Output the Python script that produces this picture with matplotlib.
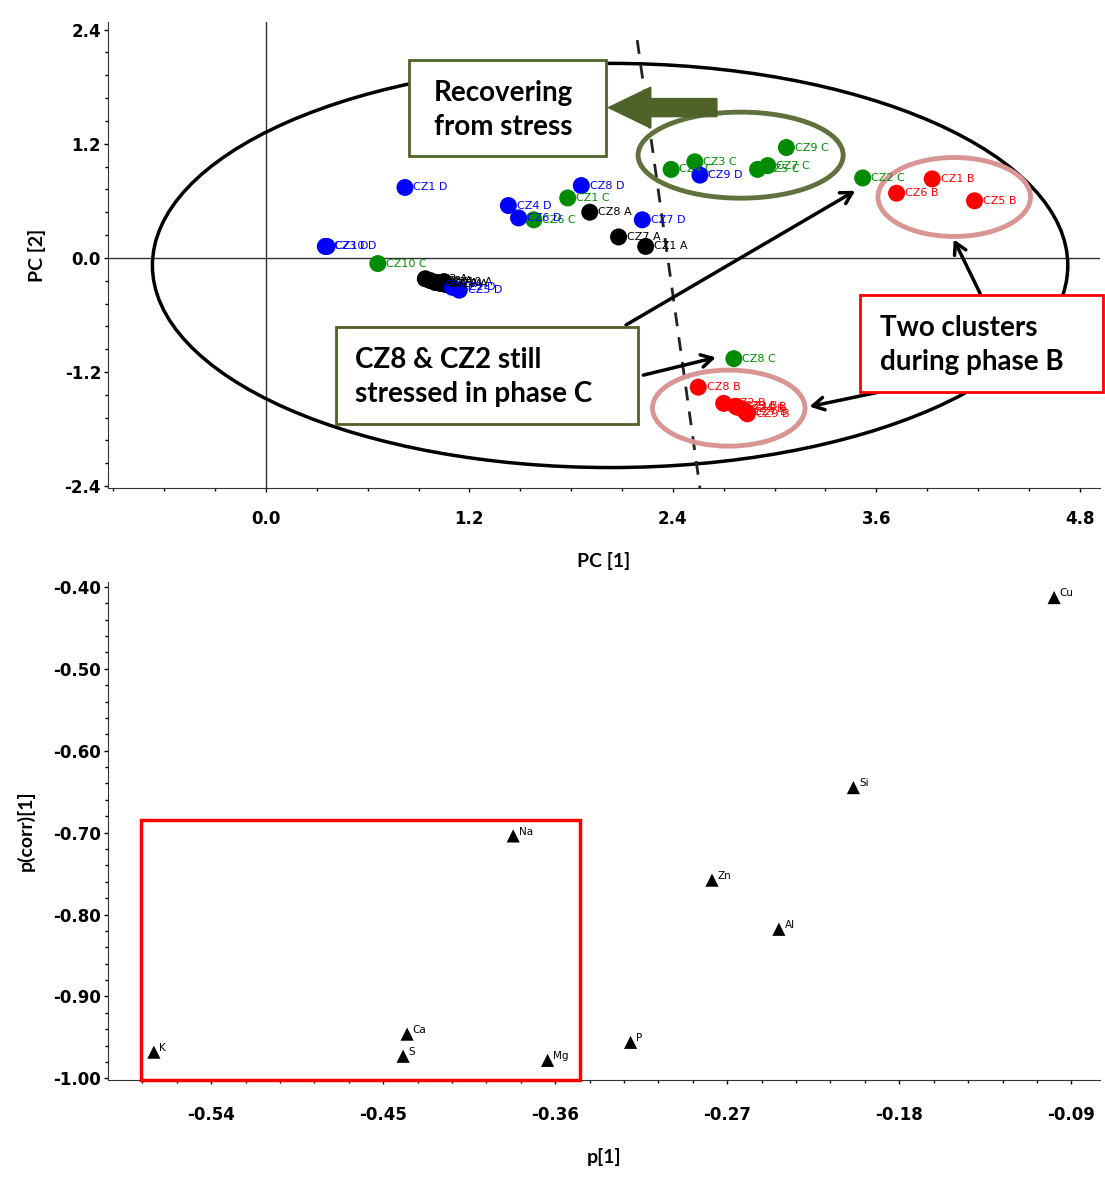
import numpy as np
import matplotlib
matplotlib.use("Agg")
import matplotlib.pyplot as plt
from matplotlib.patches import Ellipse, Rectangle, FancyArrow

# --- score plot (PC1 vs PC2) ---
A_NAMES = ["CZ8 A", "CZ7 A", "CZ1 A", "CZ2 A", "CZ3 A", "CZ4 A", "CZ6 A", "CZ9 A", "CZ10 A"]
A_X = [1.91, 2.08, 2.24, 0.94, 0.97, 1.00, 1.03, 1.06, 1.05]
A_Y = [0.48, 0.22, 0.12, -0.22, -0.24, -0.26, -0.27, -0.28, -0.25]

B_NAMES = ["CZ1 B", "CZ6 B", "CZ5 B", "CZ8 B", "CZ2 B", "CZ3 B", "CZ4 B", "CZ7 B", "CZ9 B", "CZ10 B"]
B_X = [3.93, 3.72, 4.18, 2.55, 2.70, 2.77, 2.81, 2.83, 2.84, 2.78]
B_Y = [0.83, 0.68, 0.60, -1.36, -1.53, -1.56, -1.59, -1.62, -1.64, -1.57]

C_NAMES = ["CZ1 C", "CZ2 C", "CZ3 C", "CZ4 C", "CZ5 C", "CZ6 C", "CZ7 C", "CZ8 C", "CZ9 C", "CZ10 C"]
C_X = [1.78, 3.52, 2.53, 2.39, 2.90, 1.58, 2.96, 2.76, 3.07, 0.66]
C_Y = [0.63, 0.84, 1.01, 0.93, 0.93, 0.40, 0.97, -1.06, 1.16, -0.06]

D_NAMES = ["CZ1 D", "CZ3 D", "CZ10 D", "CZ8 D", "CZ4 D", "CZ6 D", "CZ7 D", "CZ9 D", "CZ2 D", "CZ5 D"]
D_X = [0.82, 0.35, 0.36, 1.86, 1.43, 1.49, 2.22, 2.56, 1.10, 1.14]
D_Y = [0.74, 0.12, 0.12, 0.76, 0.55, 0.42, 0.40, 0.87, -0.31, -0.34]

# --- loading plot p[1] vs p(corr)[1] ---
ELEMENTS = ["Cu", "Si", "Zn", "Al", "Na", "Ca", "S", "Mg", "P", "K"]
P1 = [-0.099, -0.204, -0.278, -0.243, -0.382, -0.4375, -0.4396, -0.364, -0.3206, -0.570]
PCORR = [-0.413, -0.645, -0.758, -0.818, -0.704, -0.946, -0.973, -0.978, -0.956, -0.968]

OLIVE = "#4f6228"
PINK = "#d99594"
W, H = 1105, 1180


def style_axes(ax, xpad):
    for s in ["top", "right"]:
        ax.spines[s].set_visible(False)
    for s in ["left", "bottom"]:
        ax.spines[s].set_color("#333333")
    ax.tick_params(which="major", length=3, width=1, labelsize=12)
    ax.tick_params(which="minor", length=2, width=1)
    ax.tick_params(axis="y", pad=2)
    ax.tick_params(axis="x", pad=xpad)
    for lab in ax.get_xticklabels() + ax.get_yticklabels():
        lab.set_fontweight("bold")


fig = plt.figure(figsize=(W / 100, H / 100), dpi=100)
label_font = dict(fontsize=14, fontweight="bold", family="Lato")

# top panel
ax1 = fig.add_axes([108 / W, 1 - 488 / H, 992 / W, 466 / H])
ax1.set_xlim(-0.932, 4.92)
ax1.set_ylim(-2.42, 2.48)
ax1.set_xticks([0.0, 1.2, 2.4, 3.6, 4.8])
ax1.set_xticks(np.arange(-0.9, 4.9, 0.3), minor=True)
ax1.set_yticks([-2.4, -1.2, 0.0, 1.2, 2.4])
ax1.set_yticks(np.arange(-2.4, 2.41, 0.24), minor=True)
ax1.set_xticklabels(["0.0", "1.2", "2.4", "3.6", "4.8"])
ax1.set_yticklabels(["-2.4", "-1.2", "0.0", "1.2", "2.4"])
style_axes(ax1, 13)
ax1.axhline(0, color="#333333", lw=1, zorder=1)
ax1.axvline(0, color="#333333", lw=1, zorder=1)

ax1.add_patch(Ellipse((2.03, -0.08), 5.40, 4.25, fill=False, ec="black", lw=2.5, zorder=2))
ax1.plot([2.19, 2.56], [2.29, -2.42], ls=(0, (5, 4)), color="#222222", lw=2, zorder=2)

for names, xs, ys, col in [(A_NAMES, A_X, A_Y, "black"), (C_NAMES, C_X, C_Y, "#008c00"),
                           (D_NAMES, D_X, D_Y, "#0000ff"), (B_NAMES, B_X, B_Y, "#ff0000")]:
    ax1.scatter(xs, ys, s=150, color=col, zorder=4, edgecolors="none")
    for n, x, y in zip(names, xs, ys):
        ax1.annotate(n, (x, y), xytext=(6, 0), textcoords="offset points",
                     va="center", ha="left", fontsize=8, color=col, zorder=5)

ax1.add_patch(Ellipse((2.80, 1.08), 1.21, 0.905, fill=False, ec=OLIVE, lw=3.5, alpha=0.9, zorder=3))
ax1.add_patch(Ellipse((4.06, 0.64), 0.90, 0.83, fill=False, ec=PINK, lw=3.5, zorder=3))
ax1.add_patch(Ellipse((2.73, -1.58), 0.90, 0.80, fill=False, ec=PINK, lw=3.5, zorder=3))

ax1.add_patch(FancyArrow(2.66, 1.58, -0.64, 0, width=0.19, head_width=0.43,
                         head_length=0.25, color=OLIVE, length_includes_head=True, zorder=3))

arr = dict(arrowstyle="->,head_length=0.8,head_width=0.45", color="black", lw=2.5)
ax1.annotate("", xy=(3.49, 0.72), xytext=(2.11, -0.72), arrowprops=arr, zorder=6)
ax1.annotate("", xy=(2.67, -1.04), xytext=(2.21, -1.24), arrowprops=arr, zorder=6)
ax1.annotate("", xy=(4.05, 0.22), xytext=(4.22, -0.40), arrowprops=arr, zorder=6)
ax1.annotate("", xy=(3.19, -1.57), xytext=(3.62, -1.41), arrowprops=arr, zorder=6)

ax1.set_xlabel("PC [1]", labelpad=17, **label_font)
ax1.set_ylabel("PC [2]", labelpad=13, **label_font)


def box(x0, y0, x1, y1, ec):
    r = Rectangle((x0 / W, 1 - y1 / H), (x1 - x0) / W, (y1 - y0) / H,
                  transform=fig.transFigure, fc="white", ec=ec, lw=2, zorder=10)
    fig.add_artist(r)


box_font = dict(fontsize=20, fontweight="bold", family="Lato", color="black", zorder=11)
box(409, 60, 606, 156, OLIVE)
fig.text(503 / W, 1 - 110 / H, "Recovering\nfrom stress", ha="center", va="center",
         linespacing=1.35, **box_font)
box(336, 327, 638, 424, OLIVE)
fig.text(355 / W, 1 - 377 / H, "CZ8 & CZ2 still\nstressed in phase C", ha="left", va="center",
         linespacing=1.4, **box_font)
box(860, 295, 1103, 392, "#ff0000")
fig.text(880 / W, 1 - 345 / H, "Two clusters\nduring phase B", ha="left", va="center",
         linespacing=1.4, **box_font)

# bottom panel
ax2 = fig.add_axes([108 / W, 1 - 1080 / H, 992 / W, 498 / H])
ax2.set_xlim(-0.594, -0.075)
ax2.set_ylim(-1.002, -0.394)
ax2.set_xticks([-0.54, -0.45, -0.36, -0.27, -0.18, -0.09])
ax2.set_xticks(np.arange(-0.576, -0.08, 0.018), minor=True)
ax2.set_yticks([-1.0, -0.9, -0.8, -0.7, -0.6, -0.5, -0.4])
ax2.set_yticks(np.arange(-1.0, -0.39, 0.02), minor=True)
ax2.set_xticklabels(["-0.54", "-0.45", "-0.36", "-0.27", "-0.18", "-0.09"])
ax2.set_yticklabels(["-1.00", "-0.90", "-0.80", "-0.70", "-0.60", "-0.50", "-0.40"])
style_axes(ax2, 16)

ax2.scatter(P1, PCORR, marker="^", s=90, color="black", zorder=4, edgecolors="none")
for n, x, y in zip(ELEMENTS, P1, PCORR):
    ax2.annotate(n, (x, y), xytext=(4, 3), textcoords="offset points",
                 va="center", ha="left", fontsize=7.5, color="black")

ax2.add_patch(Rectangle((-0.5765, -1.002), 0.2295, 0.318, fill=False, ec="#ff0000",
                        lw=2.5, zorder=3, clip_on=False))

ax2.set_xlabel("p[1]", labelpad=17, **label_font)
ax2.set_ylabel("p(corr)[1]", labelpad=13, **label_font)

fig.savefig("out.png", dpi=100)
